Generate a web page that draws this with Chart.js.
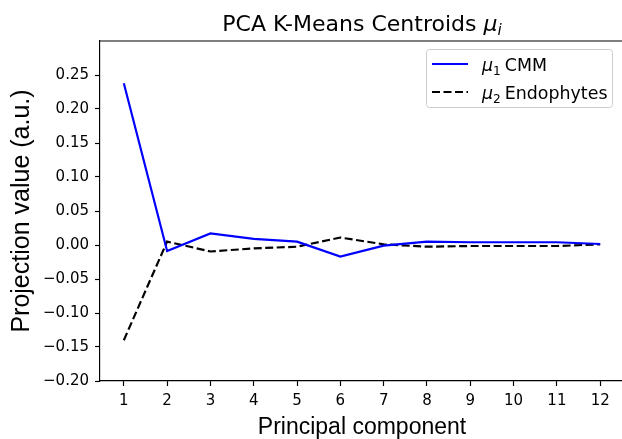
<!DOCTYPE html>
<html>
<head>
<meta charset="utf-8">
<script src="https://cdn.jsdelivr.net/npm/chart.js@4/dist/chart.umd.min.js"></script>
<style>
  html, body { margin: 0; padding: 0; background: #fff; overflow: hidden; width: 622px; height: 439px; }
  canvas { display: block; }
</style>
</head>
<body>
<canvas id="c" width="626" height="439"></canvas>
<script>
// ---- data ----
const components = [1, 2, 3, 4, 5, 6, 7, 8, 9, 10, 11, 12];
const cmmValues  = [0.238, -0.009, 0.017, 0.009, 0.005, -0.017, -0.001, 0.005, 0.004, 0.004, 0.004, 0.0015];
const endoValues = [-0.140, 0.005, -0.0095, -0.005, -0.0025, 0.011, 0.001, -0.0025, -0.0015, -0.0015, -0.0015, 0.001];
const yTickValues = [-0.20, -0.15, -0.10, -0.05, 0.00, 0.05, 0.10, 0.15, 0.20, 0.25];
const seriesNames = ['CMM', 'Endophytes'];
const seriesSubscripts = ['1', '2'];
const titleText = 'PCA K-Means Centroids ';
const titleSubscript = 'i';
const xTitle = 'Principal component';
const yTitle = 'Projection value (a.u.)';

const DV = '"DejaVu Sans"';
const LINE_W = 2.17;
const DASH = [8.0, 3.5];

function mkPoints(vals) { return components.map((c, i) => ({ x: c, y: vals[i] })); }

function drawMath(ctx, parts, x, y) {
  let cx = x;
  for (const p of parts) {
    ctx.font = p.font;
    ctx.fillText(p.t, cx, y + (p.dy || 0));
    cx += ctx.measureText(p.t).width + (p.gap || 0);
  }
  return cx;
}
function mathWidth(ctx, parts) {
  let w = 0;
  for (const p of parts) { ctx.font = p.font; w += ctx.measureText(p.t).width + (p.gap || 0); }
  return w;
}

const decorPlugin = {
  id: 'decor',
  afterDraw(chart) {
    const ctx = chart.ctx;
    const a = chart.chartArea;
    ctx.save();
    // top spine
    ctx.strokeStyle = '#000';
    ctx.lineWidth = 1.16;
    ctx.beginPath();
    ctx.moveTo(a.left - 0.5, a.top);
    ctx.lineTo(a.right, a.top);
    ctx.stroke();
    ctx.beginPath();
    ctx.moveTo(a.right, a.top);
    ctx.lineTo(a.right, a.bottom);
    ctx.stroke();

    // title
    ctx.fillStyle = '#000';
    ctx.textBaseline = 'alphabetic';
    ctx.textAlign = 'left';
    const tParts = [
      { t: titleText, font: '22px ' + DV },
      { t: 'μ', font: 'oblique 22px ' + DV },
      { t: titleSubscript, font: 'oblique 15.4px ' + DV, dy: 4 }
    ];
    const tw = mathWidth(ctx, tParts);
    drawMath(ctx, tParts, (a.left + a.right) / 2 - tw / 2, 31);

    // legend
    const bx = 426.5, by = 49.5, bw = 186, bh = 58;
    ctx.beginPath();
    ctx.roundRect(bx, by, bw, bh, 3);
    ctx.fillStyle = 'rgba(255,255,255,0.8)';
    ctx.fill();
    ctx.strokeStyle = '#cccccc';
    ctx.lineWidth = 1;
    ctx.stroke();

    const rows = [64, 92];
    chart.data.datasets.forEach((ds, i) => {
      const ry = rows[i];
      ctx.strokeStyle = ds.borderColor;
      ctx.lineWidth = LINE_W;
      ctx.setLineDash(ds.borderDash || []);
      ctx.beginPath();
      ctx.moveTo(432, ry);
      ctx.lineTo(468, ry);
      ctx.stroke();
      ctx.setLineDash([]);
      ctx.fillStyle = '#000';
      drawMath(ctx, [
        { t: 'μ', font: 'oblique 17.4px ' + DV },
        { t: seriesSubscripts[i], font: '12.2px ' + DV, dy: 3.5, gap: 4 },
        { t: seriesNames[i], font: '17.4px ' + DV }
      ], 482, ry + 7);
    });
    ctx.restore();
  }
};

const fmt = v => {
  const s = Math.abs(v) < 1e-9 ? '0.00' : v.toFixed(2);
  return s.replace('-', '\u2212');
};

new Chart(document.getElementById('c'), {
  type: 'line',
  data: {
    datasets: [
      {
        label: 'μ1 ' + seriesNames[0],
        data: mkPoints(cmmValues),
        borderColor: '#0000ff',
        borderWidth: LINE_W,
        pointRadius: 0,
        tension: 0,
        fill: false
      },
      {
        label: 'μ2 ' + seriesNames[1],
        data: mkPoints(endoValues),
        borderColor: '#000000',
        borderWidth: LINE_W,
        borderDash: DASH,
        pointRadius: 0,
        tension: 0,
        fill: false
      }
    ]
  },
  options: {
    responsive: false,
    animation: false,
    devicePixelRatio: 1,
    layout: { padding: { top: 41, left: 0, right: 2, bottom: 0 } },
    plugins: {
      legend: { display: false },
      title: { display: false },
      tooltip: { enabled: false }
    },
    scales: {
      x: {
        type: 'linear',
        min: 0.45,
        max: 12.55,
        afterBuildTicks: s => { s.ticks = components.map(v => ({ value: v })); },
        afterFit: s => { s.height = 58; },
        ticks: {
          color: '#000',
          font: { family: 'DejaVu Sans', size: 15 },
          padding: 6,
          maxRotation: 0,
          autoSkip: false
        },
        grid: { drawOnChartArea: false, drawTicks: true, tickLength: 5, tickColor: '#000', tickWidth: 1.16 },
        border: { color: '#000', width: 1.16 },
        title: {
          display: true,
          text: xTitle,
          color: '#000',
          font: { family: 'Liberation Sans', size: 23, lineHeight: 1 },
          padding: { top: 0, bottom: 0 }
        }
      },
      y: {
        min: -0.2,
        max: 0.3,
        afterBuildTicks: s => { s.ticks = yTickValues.map(v => ({ value: v })); },
        afterFit: s => { s.width = 100; },
        ticks: {
          color: '#000',
          font: { family: 'DejaVu Sans', size: 15 },
          padding: 6,
          callback: v => fmt(v)
        },
        grid: { drawOnChartArea: false, drawTicks: true, tickLength: 5, tickColor: '#000', tickWidth: 1.16 },
        border: { color: '#000', width: 1.16 },
        title: {
          display: true,
          text: yTitle,
          color: '#000',
          font: { family: 'Liberation Sans', size: 25, lineHeight: 1 },
          padding: { top: 10, bottom: 0 }
        }
      }
    }
  },
  plugins: [decorPlugin]
});
</script>
</body>
</html>
